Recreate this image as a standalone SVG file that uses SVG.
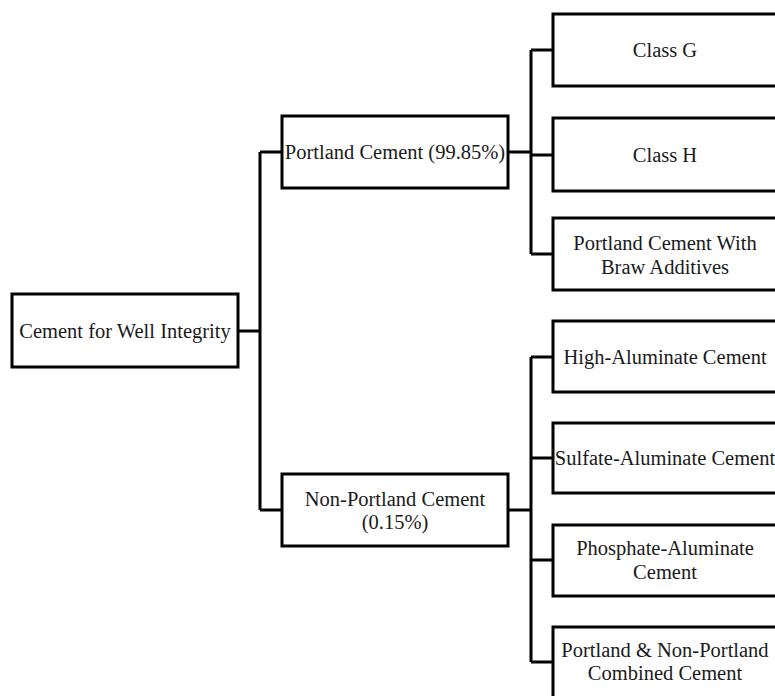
<svg xmlns="http://www.w3.org/2000/svg" width="775" height="696" viewBox="0 0 775 696">
<style>
rect{fill:#fff;stroke:#000;stroke-width:3}
.c path{fill:none;stroke:#000;stroke-width:3}
text{font-family:"Liberation Serif","Times New Roman",serif;font-size:20.5px;fill:#1a1a1a;text-anchor:middle}
</style>
<rect x="0" y="0" width="775" height="696" style="stroke:none"/>
<g class="c" id="connectors">
<path d="M238 331H260M260 152V510M260 152H282M260 510H282"/>
<path d="M508 152H531M531 50V254M531 50H553M531 155H553M531 254H553"/>
<path d="M508 510H531M531 357V662M531 357H553M531 458H553M531 560H553M531 662H553"/>
</g>
<g id="root"><rect x="12" y="294" width="226" height="73"/><text x="125" y="338">Cement for Well Integrity</text></g>
<g id="portland"><rect x="282" y="116" width="226" height="72"/><text x="395" y="159">Portland Cement (99.85%)</text></g>
<g id="nonportland"><rect x="282" y="474" width="226" height="72"/><text x="395" y="506">Non-Portland Cement</text><text x="395" y="529">(0.15%)</text></g>
<g id="classG"><rect x="553" y="14" width="226" height="72"/><text x="665" y="57">Class G</text></g>
<g id="classH"><rect x="553" y="118" width="226" height="73"/><text x="665" y="162">Class H</text></g>
<g id="pcBraw"><rect x="553" y="218" width="226" height="72"/><text x="665" y="250">Portland Cement With</text><text x="665" y="274">Braw Additives</text></g>
<g id="highAl"><rect x="553" y="321" width="226" height="71"/><text x="665" y="364">High-Aluminate Cement</text></g>
<g id="sulfAl"><rect x="553" y="423" width="226" height="70"/><text x="665" y="465">Sulfate-Aluminate Cement</text></g>
<g id="phosAl"><rect x="553" y="525" width="226" height="71"/><text x="665" y="555">Phosphate-Aluminate</text><text x="665" y="579">Cement</text></g>
<g id="combined"><rect x="553" y="627" width="226" height="72"/><text x="665" y="657">Portland &amp; Non-Portland</text><text x="665" y="680">Combined Cement</text></g>
</svg>
